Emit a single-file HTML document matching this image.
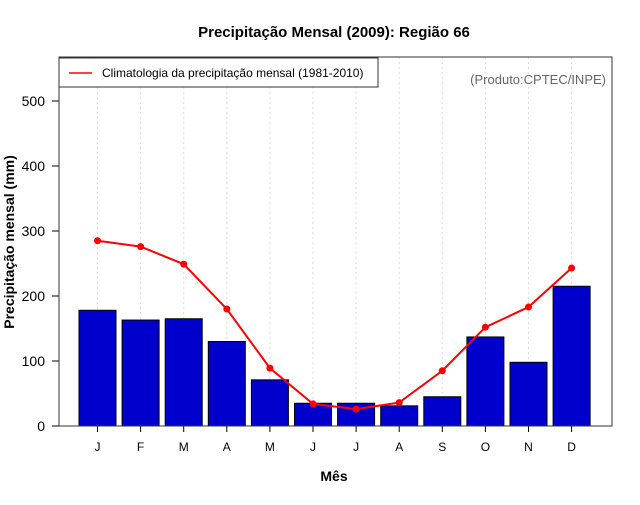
<!DOCTYPE html>
<html><head><meta charset="utf-8"><style>
body{margin:0;background:#fff;}
svg text{font-family:"Liberation Sans",sans-serif;}
</style></head><body>
<svg id="chart" width="640" height="500" xmlns="http://www.w3.org/2000/svg">
<rect width="640" height="500" fill="#fff"/>
<text x="334" y="37" text-anchor="middle" font-size="15" font-weight="bold">Precipitação Mensal (2009): Região 66</text>
<g id="grid"></g>
<g id="bars"></g>
<g id="line"></g>
<g id="axes"></g>
<rect x="59" y="57" width="553" height="369" fill="none" stroke="#333" stroke-width="1"/>
<g>
<rect x="59" y="58" width="319" height="29" fill="#fff" stroke="#333"/>
<line x1="69" y1="73" x2="92" y2="73" stroke="red" stroke-width="1.5"/>
<text x="102" y="77" font-size="12">Climatologia da precipitação mensal (1981-2010)</text>
</g>
<text x="606" y="84" text-anchor="end" font-size="13" fill="#666">(Produto:CPTEC/INPE)</text>
<text transform="translate(14,242) rotate(-90)" text-anchor="middle" font-size="14" font-weight="bold">Precipitação mensal (mm)</text>
<text x="334" y="481" text-anchor="middle" font-size="14" font-weight="bold">Mês</text>
</svg>
<script>
const months=["J","F","M","A","M","J","J","A","S","O","N","D"];
const observed=[178,163,165,130,71,35,35,31,45,137,98,215];
const climatology=[285,276,249,180,89,34,26,36,85,152,183,243];
const yTicks=[0,100,200,300,400,500];
const NS="http://www.w3.org/2000/svg";
const x=i=>97.5+i*43.1;
const y=v=>426-v*0.65;
function mk(tag,attrs,parent){const e=document.createElementNS(NS,tag);for(const k in attrs)e.setAttribute(k,attrs[k]);document.getElementById(parent).appendChild(e);return e;}
months.forEach((m,i)=>{
 const g=mk("line",{x1:x(i),x2:x(i),y1:57,y2:426,stroke:"#ddd","stroke-dasharray":"2,3"},"grid");
 
 
 const b=mk("rect",{x:x(i)-18.5,y:y(observed[i]),width:37,height:426-y(observed[i]),fill:"#0000cd",stroke:"#000","stroke-width":1},"bars");
 
 
 const t=mk("line",{x1:x(i),x2:x(i),y1:426,y2:432,stroke:"#000"},"axes");
 
 
 const l=mk("text",{x:x(i),y:451,"text-anchor":"middle","font-size":12},"axes");
 l.textContent=m;
 
 
});
const pl=mk("polyline",{points:climatology.map((v,i)=>x(i)+","+y(v)).join(" "),fill:"none",stroke:"red","stroke-width":2},"line");


climatology.forEach((v,i)=>{
 const c=mk("circle",{cx:x(i),cy:y(v),r:3.5,fill:"red"},"line");
 
 
});
mk("line",{x1:59,x2:59,y1:y(0),y2:y(500),stroke:"#000"},"axes");
yTicks.forEach(v=>{
 const t=mk("line",{x1:52,x2:59,y1:y(v),y2:y(v),stroke:"#000"},"axes");
 
 
 const l=mk("text",{x:45,y:y(v)+5,"text-anchor":"end","font-size":14},"axes");
 l.textContent=v;
 
 
});
</script>
</body></html>
